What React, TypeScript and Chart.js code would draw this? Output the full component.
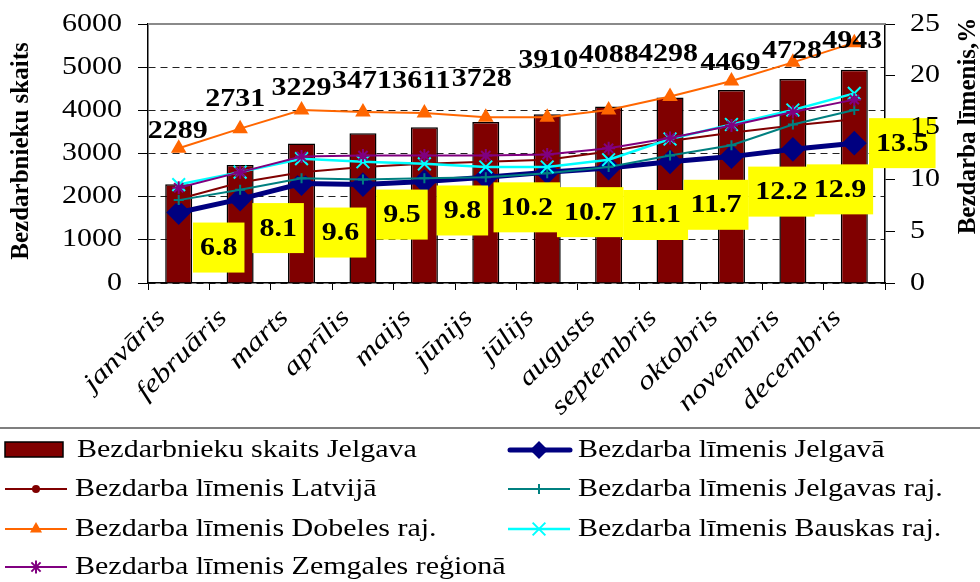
import React, { useEffect, useRef } from "react";
import { Chart, registerables } from "chart.js";

Chart.register(...registerables);

// ---------- data ----------
const months = [
  "janvāris", "februāris", "marts", "aprīlis", "maijs", "jūnijs",
  "jūlijs", "augusts", "septembris", "oktobris", "novembris", "decembris",
];
const unemployedJelgava = [2289, 2731, 3229, 3471, 3611, 3728, 3910, 4088, 4298, 4469, 4728, 4943];
const rateJelgava = [6.8, 8.1, 9.6, 9.5, 9.8, 10.2, 10.7, 11.1, 11.7, 12.2, 12.9, 13.5];
const rateLatvia = [8.1, 9.7, 10.7, 11.2, 11.5, 11.7, 11.9, 12.7, 13.7, 14.5, 15.2, 15.8];
const rateJelgavaDistrict = [8.0, 9.0, 10.1, 10.0, 10.1, 10.2, 10.6, 11.2, 12.3, 13.3, 15.3, 16.7];
const rateDobele = [13.0, 14.9, 16.7, 16.5, 16.4, 16.0, 16.0, 16.7, 18.0, 19.5, 21.3, 23.2];
const rateBauska = [9.5, 10.7, 12.0, 11.7, 11.5, 11.2, 11.2, 11.9, 13.9, 15.3, 16.7, 18.3];
const rateZemgale = [9.2, 10.7, 12.2, 12.3, 12.3, 12.3, 12.4, 13.0, 14.0, 15.2, 16.5, 17.7];

const leftAxisTitle = "Bezdarbnieku skaits";
const rightAxisTitle = "Bezdarba līmenis,%";

// ---------- label layout (pixel offsets, not data) ----------
const barLabelDx = [-1, -5, 0, -1, -3, -4, 1, 0, -2, -1, -1, -2];
const barLabelLift = [53, 66, 55, 52, 46, 43, 54, 51, 43, 27, 27, 28];
const rateLabelDx = [40, 38, 39, 39, 38, 41, 43, 47, 46, 50, 47, 48];
const rateLabelDy = [35, 29, 49, 30, 29, 30, 40, 47, 43, 35, 40, 0];

const SERIF = '"Liberation Serif", "Times New Roman", serif';
const SX = 1.2;

type TextOpts = { align?: CanvasTextAlign; baseline?: CanvasTextBaseline; rotate?: number; color?: string; sx?: number };

function drawText(ctx: CanvasRenderingContext2D, text: string, x: number, y: number, font: string, o: TextOpts = {}) {
  ctx.save();
  ctx.translate(x, y);
  ctx.scale(o.sx ?? SX, 1);
  if (o.rotate) ctx.rotate(o.rotate);
  ctx.font = font;
  ctx.fillStyle = o.color || "#000";
  ctx.textAlign = o.align || "left";
  ctx.textBaseline = o.baseline || "middle";
  ctx.fillText(text, 0, 0);
  ctx.restore();
}

function measure(ctx: CanvasRenderingContext2D, text: string, font: string) {
  ctx.save();
  ctx.font = font;
  const w = ctx.measureText(text).width * SX;
  ctx.restore();
  return w;
}

function drawMarker(ctx: CanvasRenderingContext2D, style: string, x: number, y: number, r: number, color: string, lw: number) {
  ctx.save();
  ctx.fillStyle = color;
  ctx.strokeStyle = color;
  ctx.lineWidth = lw;
  ctx.beginPath();
  if (style === "circle") {
    ctx.arc(x, y, r, 0, Math.PI * 2);
    ctx.fill();
  } else if (style === "triangle") {
    ctx.moveTo(x, y - r);
    ctx.lineTo(x + r * 0.866, y + r * 0.5);
    ctx.lineTo(x - r * 0.866, y + r * 0.5);
    ctx.closePath();
    ctx.fill();
  } else if (style === "rectRot") {
    ctx.moveTo(x, y - r);
    ctx.lineTo(x + r, y);
    ctx.lineTo(x, y + r);
    ctx.lineTo(x - r, y);
    ctx.closePath();
    ctx.fill();
  } else {
    const d = r * 0.7071;
    if (style === "cross" || style === "star") {
      ctx.moveTo(x - r, y); ctx.lineTo(x + r, y);
      ctx.moveTo(x, y - r); ctx.lineTo(x, y + r);
    }
    if (style === "crossRot" || style === "star") {
      ctx.moveTo(x - d, y - d); ctx.lineTo(x + d, y + d);
      ctx.moveTo(x - d, y + d); ctx.lineTo(x + d, y - d);
    }
    ctx.stroke();
  }
  ctx.restore();
}

const legendSlots = [
  [0, 0], [1, 0], [0, 1], [1, 1], [0, 2], [1, 2], [0, 3],
];
const legendColX = [5, 508];
const legendRowY = [450, 489, 529, 567];

const overlayPlugin = {
  id: "overlay",
  afterDraw(chart: any) {
    const ctx: CanvasRenderingContext2D = chart.ctx;
    const area = chart.chartArea;
    const bold = `bold 25px ${SERIF}`;
    const regular = `25px ${SERIF}`;

    // plot-area top border
    ctx.save();
    ctx.strokeStyle = "#8a8a8a";
    ctx.lineWidth = 2;
    ctx.beginPath();
    ctx.moveTo(area.left, area.top);
    ctx.lineTo(area.right, area.top);
    ctx.stroke();
    ctx.restore();

    // bar value labels
    const barMeta = chart.getDatasetMeta(0);
    barMeta.data.forEach((el: any, i: number) => {
      drawText(ctx, String(unemployedJelgava[i]), el.x + barLabelDx[i], el.y - barLabelLift[i], bold, { align: "center" });
    });

    // yellow rate labels for Jelgava
    const lineMeta = chart.getDatasetMeta(1);
    lineMeta.data.forEach((el: any, i: number) => {
      const txt = rateJelgava[i].toFixed(1);
      const w = measure(ctx, txt, bold) + 14;
      const h = 50;
      const cx = el.x + rateLabelDx[i];
      const cy = el.y + rateLabelDy[i];
      ctx.save();
      ctx.fillStyle = "#ffff00";
      ctx.fillRect(cx - w / 2, cy - h / 2, w, h);
      ctx.restore();
      drawText(ctx, txt, cx, cy + 1, bold, { align: "center" });
    });

    // y tick labels
    const yL = chart.scales.y;
    yL.ticks.forEach((t: any) => {
      drawText(ctx, String(t.label), yL.right - 26, yL.getPixelForValue(t.value), regular, { align: "right" });
    });
    const yR = chart.scales.y1;
    yR.ticks.forEach((t: any) => {
      drawText(ctx, String(t.label), yR.left + 25, yR.getPixelForValue(t.value), regular, { align: "left" });
    });

    // x labels: rotated 45°, widened along the text direction
    const xs = chart.scales.x;
    months.forEach((m, i) => {
      ctx.save();
      ctx.translate(xs.getPixelForValue(i) - 17, area.bottom + 31);
      ctx.rotate(-Math.PI / 4);
      ctx.scale(1.22, 1);
      ctx.font = `italic 26px ${SERIF}`;
      ctx.fillStyle = "#000";
      ctx.textAlign = "right";
      ctx.textBaseline = "middle";
      ctx.fillText(m, 0, 0);
      ctx.restore();
    });

    // axis titles
    drawText(ctx, leftAxisTitle, 22, 151, bold, { align: "center", rotate: -Math.PI / 2, sx: 1 });
    drawText(ctx, rightAxisTitle, 969, 126, bold, { align: "center", rotate: -Math.PI / 2, sx: 1 });

    // legend
    ctx.save();
    ctx.strokeStyle = "#7f7f7f";
    ctx.lineWidth = 2;
    ctx.beginPath();
    ctx.moveTo(0, 428);
    ctx.lineTo(chart.width, 428);
    ctx.stroke();
    ctx.restore();

    chart.data.datasets.forEach((ds: any, i: number) => {
      const [col, row] = legendSlots[i];
      const x0 = legendColX[col];
      const y = legendRowY[row];
      if (i === 0) {
        ctx.save();
        ctx.fillStyle = ds.backgroundColor;
        ctx.strokeStyle = "#000";
        ctx.lineWidth = 1.5;
        ctx.fillRect(x0, y - 8, 58, 15);
        ctx.strokeRect(x0, y - 8, 58, 15);
        ctx.restore();
        drawText(ctx, ds.label, x0 + 72, y, regular);
      } else {
        ctx.save();
        ctx.strokeStyle = ds.borderColor;
        ctx.lineWidth = ds.borderWidth;
        ctx.lineCap = i === 1 ? "round" : "butt";
        ctx.beginPath();
        ctx.moveTo(x0 + (i === 1 ? 2 : 0), y);
        ctx.lineTo(x0 + 62, y);
        ctx.stroke();
        ctx.restore();
        drawMarker(ctx, ds.pointStyle, x0 + 31, y, i === 1 ? 9 : ds.pointRadius, ds.borderColor, ds.pointBorderWidth || 1.5);
        drawText(ctx, ds.label, x0 + 70, y, regular);
      }
    });
  },
};

function lineSet(label: string, data: number[], color: string, width: number, style: string, radius: number, order: number) {
  return {
    type: "line" as const,
    label,
    data,
    yAxisID: "y1",
    borderColor: color,
    backgroundColor: color,
    borderWidth: width,
    pointStyle: style,
    pointRadius: radius,
    pointBackgroundColor: color,
    pointBorderColor: color,
    pointBorderWidth: 2,
    tension: 0,
    fill: false,
    order,
  };
}

export default function App() {
  const ref = useRef<HTMLCanvasElement | null>(null);

  useEffect(() => {
    if (!ref.current) return;
    const chart = new Chart(ref.current, {
      type: "bar",
      data: {
        labels: months,
        datasets: [
          {
            type: "bar",
            label: "Bezdarbnieku skaits Jelgava",
            data: unemployedJelgava,
            yAxisID: "y",
            backgroundColor: "#800000",
            borderColor: "#000",
            borderWidth: 1.5,
            categoryPercentage: 1,
            barPercentage: 0.44,
            order: 10,
          } as any,
          lineSet("Bezdarba līmenis Jelgavā", rateJelgava, "#000080", 5, "rectRot", 11, 6),
          lineSet("Bezdarba līmenis Latvijā", rateLatvia, "#800000", 2, "circle", 4, 5),
          lineSet("Bezdarba līmenis Jelgavas raj.", rateJelgavaDistrict, "#008080", 2, "cross", 5, 4),
          lineSet("Bezdarba līmenis Dobeles raj.", rateDobele, "#ff6600", 2, "triangle", 7, 3),
          lineSet("Bezdarba līmenis Bauskas raj.", rateBauska, "#00ffff", 2.5, "crossRot", 9, 2),
          lineSet("Bezdarba līmenis Zemgales reģionā", rateZemgale, "#800080", 2, "star", 6.5, 1),
        ],
      },
      options: {
        responsive: false,
        animation: false,
        devicePixelRatio: 1,
        layout: { padding: { top: 24, bottom: 155, left: 0, right: 0 } },
        plugins: {
          legend: { display: false },
          tooltip: { enabled: false },
        },
        scales: {
          x: {
            offset: true,
            grid: { offset: true, drawOnChartArea: false, drawTicks: true, tickLength: 7, color: "#000", lineWidth: 1 },
            border: { color: "#000", width: 1.5 },
            ticks: { display: false },
            afterFit: (s: any) => { s.height = 144; },
          },
          y: {
            position: "left",
            min: 0,
            max: 6000,
            ticks: { display: false, stepSize: 1000, callback: (v: any) => String(v) },
            grid: {
              color: (c: any) => (c.tick && c.tick.value === 6000 ? "rgba(0,0,0,0)" : "#222"),
              tickColor: "#000",
              lineWidth: 1,
              tickLength: 10,
              borderDash: [7, 5],
              tickBorderDash: [],
            } as any,
            border: { color: "#000", width: 1.5, dash: [7, 5] } as any,
            afterFit: (s: any) => { s.width = 148; },
          },
          y1: {
            position: "right",
            min: 0,
            max: 25,
            ticks: { display: false, stepSize: 5, callback: (v: any) => String(v) },
            grid: { drawOnChartArea: false, tickLength: 10, color: "#000", tickColor: "#000" },
            border: { color: "#000", width: 1.5 },
            afterFit: (s: any) => { s.width = 95; },
          },
        },
      } as any,
      plugins: [overlayPlugin],
    });
    return () => chart.destroy();
  }, []);

  return (
    <div style={{ position: "absolute", left: 0, top: 0, width: 980, height: 582, background: "#fff" }}>
      <canvas ref={ref} width={980} height={582} style={{ width: 980, height: 582, display: "block" }} />
    </div>
  );
}
